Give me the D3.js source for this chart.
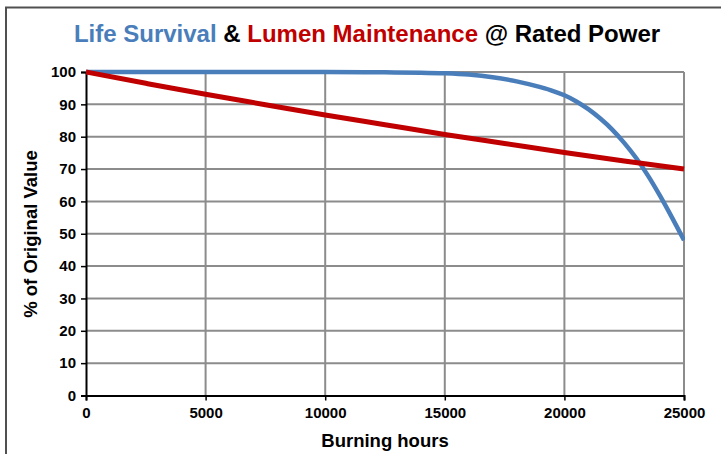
<!DOCTYPE html>
<html><head><meta charset="utf-8">
<script src="https://cdn.jsdelivr.net/npm/d3@7"></script>
<style>html,body{margin:0;padding:0;background:#fff;}svg{display:block;font-family:"Liberation Sans",Arial,sans-serif;}</style>
</head><body>
<script>
const xTicks = [0, 5000, 10000, 15000, 20000, 25000];
const yTicks = [0, 10, 20, 30, 40, 50, 60, 70, 80, 90, 100];
const survivalHours = [0, 5000, 10000, 12500, 14000, 15000, 16000, 17000, 18000, 19000, 19500, 20000, 20500, 21000, 21500, 22000, 22500, 23000, 23500, 24000, 24500, 25000];
const survivalValues = [100, 100, 100, 99.9, 99.8, 99.6, 99.2, 98.4, 97.1, 95.3, 94.2, 92.8, 90.9, 88.5, 85.6, 82.2, 78.1, 73.4, 67.9, 61.7, 55.0, 48];
const lumenHours = [0, 2500, 5000, 7500, 10000, 12500, 15000, 17500, 20000, 22500, 25000];
const lumenValues = [100, 96.5, 93.1, 89.9, 86.7, 83.7, 80.7, 77.9, 75.1, 72.5, 70];

const W = 721, H = 454;
const svg = d3.select("body").append("svg").attr("width", W).attr("height", H);
const x = d3.scaleLinear().domain([0, 25000]).range([86, 684]);
const y = d3.scaleLinear().domain([0, 100]).range([395.5, 72]);

// outer frame
svg.append("path").attr("d", `M6,${H} L6,7.5 L${W},7.5`).attr("fill","none").attr("stroke","#505050").attr("stroke-width",2);

// grid
const g = svg.append("g");
g.selectAll(".hg").data(yTicks.filter(d=>d>0)).join("line")
  .attr("x1", x(0)).attr("x2", x(25000)).attr("y1", d=>y(d)).attr("y2", d=>y(d))
  .attr("stroke","#8c8c8c").attr("stroke-width",2);
g.selectAll(".vg").data(xTicks.filter(d=>d>0)).join("line")
  .attr("x1", d=>x(d)).attr("x2", d=>x(d)).attr("y1", y(0)).attr("y2", y(100))
  .attr("stroke","#8c8c8c").attr("stroke-width",2);

// axes
const yAxis = d3.axisLeft(y).tickValues(yTicks).tickSize(5).tickPadding(5);
const xAxis = d3.axisBottom(x).tickValues(xTicks).tickSize(5).tickPadding(7).tickFormat(d3.format("d"));
const ya = svg.append("g").attr("transform", `translate(${x(0)},0)`).call(yAxis);
const xa = svg.append("g").attr("transform", `translate(0,${y(0)})`).call(xAxis);
[ya, xa].forEach(a => {
  a.select(".domain").attr("stroke","#000").attr("stroke-width",2);
  a.selectAll(".tick line").attr("stroke","#000").attr("stroke-width",1.5);
  a.selectAll("text").attr("fill","#000").attr("font-size",15).attr("font-weight","bold")
   .attr("font-family","'Liberation Sans',Arial,sans-serif");
});

// lines
const line = d3.line().x(d=>x(d[0])).y(d=>y(d[1])).curve(d3.curveMonotoneX);
svg.append("clipPath").attr("id","c").append("rect")
  .attr("x", x(0)).attr("y", 60).attr("width", x(25000)-x(0)+1).attr("height", 340);
svg.append("path").datum(survivalHours.map((h,i)=>[h, survivalValues[i]]))
  .attr("d", line).attr("fill","none").attr("stroke","#4a7ebb").attr("stroke-width",4.5)
  .attr("clip-path","url(#c)");
svg.append("path").datum(lumenHours.map((h,i)=>[h, lumenValues[i]]))
  .attr("d", line).attr("fill","none").attr("stroke","#c00000").attr("stroke-width",5)
  .attr("clip-path","url(#c)");

// title
const t = svg.append("text").attr("x", 367).attr("y", 42).attr("text-anchor","middle")
  .attr("font-size",24).attr("font-weight","bold");
t.append("tspan").attr("fill","#4a7ebb").text("Life Survival");
t.append("tspan").attr("fill","#000").text(" & ");
t.append("tspan").attr("fill","#c00000").text("Lumen Maintenance");
t.append("tspan").attr("fill","#000").text(" @ Rated Power");

// axis titles
svg.append("text").attr("x", 385).attr("y", 447).attr("text-anchor","middle")
  .attr("font-size",18.5).attr("font-weight","bold").attr("fill","#000").text("Burning hours");
svg.append("text").attr("transform","translate(36.5,234) rotate(-90)").attr("text-anchor","middle")
  .attr("font-size",18.5).attr("font-weight","bold").attr("fill","#000").text("% of Original Value");
</script>
</body></html>
